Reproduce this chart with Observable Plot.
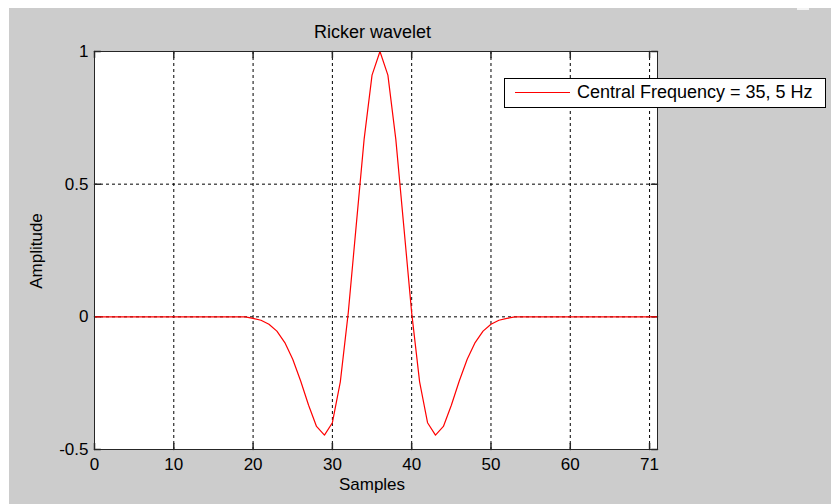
<!DOCTYPE html>
<html>
<head>
<meta charset="utf-8">
<script src="https://cdn.jsdelivr.net/npm/d3@7"></script>
<script src="https://cdn.jsdelivr.net/npm/@observablehq/plot@0.6"></script>
<style>
  html, body { margin: 0; padding: 0; background: #ffffff; }
  #fig { position: relative; width: 831px; height: 504px; overflow: hidden;
         font-family: "Liberation Sans", Arial, sans-serif; color: #000; }
  #bg { position: absolute; left: 9px; top: 8px; right: 0; bottom: 0; background: #cccccc; }
  #notch { position: absolute; left: 797px; top: 8px; width: 12px; height: 2px; background: #f4f4f4; }
  #chart { position: absolute; left: 0; top: 0; }
  .txt { position: absolute; white-space: nowrap; line-height: 18px; font-size: 18px; }
  #title { left: 372.5px; top: 22.5px; transform: translateX(-50%); }
  #xlabel { left: 372px; top: 475.5px; font-size: 17px; line-height: 17px; transform: translateX(-50%); }
  #ylabel { left: 36px; top: 251px; font-size: 17px; line-height: 17px;
            transform: translate(-50%, -50%) rotate(-90deg); }
  #legend { position: absolute; left: 503.5px; top: 77.5px; width: 320.5px; height: 28px;
            background: #ffffff; border: 1px solid #000; }
  #legend-line { position: absolute; left: 515px; top: 92px; width: 55px; height: 1.2px; background: #ff0000; }
  #legend-text { left: 577px; top: 83px; }
</style>
</head>
<body>
<div id="fig">
  <div id="bg"></div>
  <div id="notch"></div>
  <div id="chart"></div>
  <div id="title" class="txt"></div>
  <div id="xlabel" class="txt"></div>
  <div id="ylabel" class="txt"></div>
  <div id="legend"></div>
  <div id="legend-line"></div>
  <div id="legend-text" class="txt"></div>
</div>
<script>
// Ricker wavelet amplitude at each sample (0 … 71)
const amplitude = [
  0, 0, 0, 0, 0, 0, 0, 0, 0, 0,
  0, 0, 0, 0, 0, 0, 0, 0, 0, 0,
  -0.006, -0.013, -0.028, -0.054, -0.097, -0.160, -0.242, -0.333, -0.413, -0.446,
  -0.399, -0.245, 0.015, 0.343, 0.669, 0.911, 1.0, 0.911, 0.669, 0.343,
  0.015, -0.245, -0.399, -0.446, -0.413, -0.333, -0.242, -0.160, -0.097, -0.054,
  -0.028, -0.013, -0.006, 0, 0, 0, 0, 0, 0, 0,
  0, 0, 0, 0, 0, 0, 0, 0, 0, 0,
  0, 0
];
const samples = d3.range(amplitude.length);

const xDomain = [0, 71];
const yDomain = [-0.5, 1];
const xTicks = [0, 10, 20, 30, 40, 50, 60, 70];
const xTickLabels = ["0", "10", "20", "30", "40", "50", "60", "71"];
const yTicks = [-0.5, 0, 0.5, 1];
const yTickLabels = ["-0.5", "0", "0.5", "1"];

const titleText = "Ricker wavelet";
const xLabelText = "Samples";
const yLabelText = "Amplitude";
const seriesName = "Central Frequency = 35, 5 Hz";

const data = samples.map((s, i) => ({sample: s, amplitude: amplitude[i]}));
const xLabelOf = new Map(xTicks.map((t, i) => [t, xTickLabels[i]]));
const yLabelOf = new Map(yTicks.map((t, i) => [t, yTickLabels[i]]));

// short inward tick drawn as a straight stroke of the vector's length
const tickShape = {draw(context, l) { context.moveTo(0, 0); context.lineTo(0, -l); }};
const tickLen = 6;
const boxColor = "#262626";

const chart = Plot.plot({
  width: 831,
  height: 504,
  marginLeft: 94,
  marginRight: 174,
  marginTop: 51,
  marginBottom: 55,
  style: {background: "transparent", fontFamily: "'Liberation Sans', Arial, sans-serif", fontSize: "17px", color: "#000", overflow: "visible"},
  x: {domain: xDomain},
  y: {domain: yDomain},
  marks: [
    Plot.frame({fill: "white", stroke: null}),
    // dotted grid
    Plot.ruleX(xTicks.filter(t => t > xDomain[0] && t < xDomain[1]), {stroke: "#000", strokeWidth: 1, strokeDasharray: "3,3"}),
    Plot.ruleY(yTicks.filter(t => t > yDomain[0] && t < yDomain[1]), {stroke: "#000", strokeWidth: 1, strokeDasharray: "3,3"}),
    // inward ticks on all four sides
    Plot.vector(xTicks, {x: d => d, frameAnchor: "bottom", anchor: "start", rotate: 0, length: tickLen, shape: tickShape, stroke: boxColor}),
    Plot.vector(xTicks, {x: d => d, frameAnchor: "top", anchor: "start", rotate: 180, length: tickLen, shape: tickShape, stroke: boxColor}),
    Plot.vector(yTicks, {y: d => d, frameAnchor: "left", anchor: "start", rotate: 90, length: tickLen, shape: tickShape, stroke: boxColor}),
    Plot.vector(yTicks, {y: d => d, frameAnchor: "right", anchor: "start", rotate: -90, length: tickLen, shape: tickShape, stroke: boxColor}),
    // tick labels
    Plot.axisX({ticks: xTicks, tickSize: 0, tickPadding: 8, tickFormat: d => xLabelOf.get(d), label: null}),
    Plot.axisY({ticks: yTicks, tickSize: 0, tickPadding: 6, tickFormat: d => yLabelOf.get(d), label: null}),
    // wavelet
    Plot.line(data, {x: "sample", y: "amplitude", stroke: "#ff0000", strokeWidth: 1.2}),
    Plot.frame({stroke: boxColor, strokeWidth: 1})
  ]
});
document.getElementById("chart").appendChild(chart);
document.getElementById("title").textContent = titleText;
document.getElementById("xlabel").textContent = xLabelText;
document.getElementById("ylabel").textContent = yLabelText;
document.getElementById("legend-text").textContent = seriesName;
</script>
</body>
</html>
